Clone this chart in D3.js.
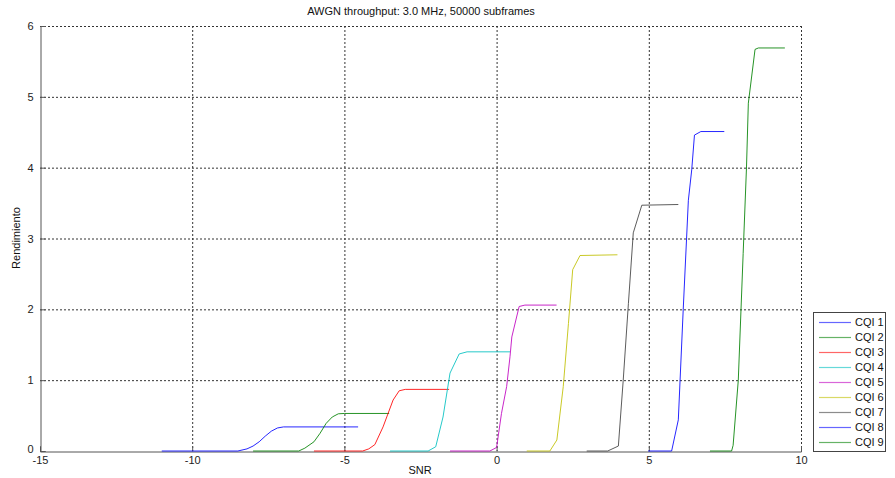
<!DOCTYPE html>
<html><head><meta charset="utf-8">
<script src="https://cdn.jsdelivr.net/npm/d3@7"></script>
<style>
body{margin:0;background:#fff;}
text{font-family:"Liberation Sans",Arial,Helvetica,sans-serif;}
</style></head>
<body><svg id="chart" width="895" height="478"></svg>
<script>
const titleText = "AWGN throughput: 3.0 MHz, 50000 subframes";
const xLabel = "SNR";
const yLabel = "Rendimiento";
const xTicks = [-15, -10, -5, 0, 5, 10];
const yTicks = [0, 1, 2, 3, 4, 5, 6];
const seriesNames = ["CQI 1","CQI 2","CQI 3","CQI 4","CQI 5","CQI 6","CQI 7","CQI 8","CQI 9"];
const seriesColors = ["#0000ff","#008000","#ff0000","#00bfbf","#bf00bf","#bfbf00","#404040","#0000ff","#008000"];

const cqi1Snr = [-11, -8.5, -8.2, -8.0, -7.8, -7.6, -7.4, -7.2, -7.0, -4.55];
const cqi1Thr = [0, 0, 0.03, 0.07, 0.13, 0.21, 0.28, 0.325, 0.34, 0.34];
const cqi2Snr = [-8.0, -6.5, -6.3, -6.0, -5.8, -5.6, -5.4, -5.2, -5.0, -3.53];
const cqi2Thr = [0, 0, 0.04, 0.13, 0.25, 0.39, 0.48, 0.525, 0.53, 0.53];
const cqi3Snr = [-6.0, -4.4, -4.2, -4.0, -3.73, -3.4, -3.2, -3.0, -1.56];
const cqi3Thr = [0, 0, 0.03, 0.09, 0.34, 0.72, 0.85, 0.87, 0.87];
const cqi4Snr = [-3.5, -2.25, -2.0, -1.76, -1.53, -1.23, -0.97, 0.44];
const cqi4Thr = [0, 0, 0.06, 0.48, 1.10, 1.37, 1.40, 1.40];
const cqi5Snr = [-1.53, -0.22, 0.0, 0.16, 0.33, 0.44, 0.5, 0.74, 0.93, 1.97];
const cqi5Thr = [0, 0, 0.05, 0.53, 0.91, 1.33, 1.61, 2.04, 2.06, 2.06];
const cqi6Snr = [0.99, 1.75, 1.98, 2.19, 2.36, 2.5, 2.74, 3.97];
const cqi6Thr = [0, 0, 0.155, 0.91, 1.80, 2.56, 2.76, 2.77];
const cqi7Snr = [2.96, 3.65, 4.0, 4.16, 4.33, 4.49, 4.77, 5.97];
const cqi7Thr = [0, 0, 0.07, 1.0, 2.08, 3.08, 3.47, 3.48];
const cqi8Snr = [4.98, 5.75, 5.97, 6.13, 6.3, 6.41, 6.5, 6.71, 7.48];
const cqi8Thr = [0, 0, 0.44, 1.99, 3.54, 3.97, 4.46, 4.51, 4.51];
const cqi9Snr = [7.01, 7.72, 7.77, 7.94, 8.1, 8.21, 8.27, 8.49, 8.6, 9.47];
const cqi9Thr = [0, 0, 0.08, 1.0, 2.79, 4.01, 4.91, 5.67, 5.69, 5.69];

const snrs = [cqi1Snr,cqi2Snr,cqi3Snr,cqi4Snr,cqi5Snr,cqi6Snr,cqi7Snr,cqi8Snr,cqi9Snr];
const thrs = [cqi1Thr,cqi2Thr,cqi3Thr,cqi4Thr,cqi5Thr,cqi6Thr,cqi7Thr,cqi8Thr,cqi9Thr];
const series = seriesNames.map((n,i)=>({name:n,color:seriesColors[i],pts:snrs[i].map((s,j)=>[s,thrs[i][j]])}));

const svg = d3.select("#chart");
const L=40, R=801, T=26, B=451;
const x = d3.scaleLinear().domain([-15,10]).range([L,R]);
const y = d3.scaleLinear().domain([0,6]).range([B,T]);

// grid
const g = svg.append("g");
g.selectAll(".gx").data(xTicks.filter(d=>d!==-15)).enter().append("line")
 .attr("x1",d=>x(d)+0.5).attr("x2",d=>x(d)+0.5).attr("y1",T).attr("y2",B)
 .attr("stroke","#333").attr("stroke-width",1).attr("stroke-dasharray","2,2");
g.selectAll(".gy").data(yTicks.filter(d=>d!==0)).enter().append("line")
 .attr("x1",L).attr("x2",R).attr("y1",d=>y(d)+0.5).attr("y2",d=>y(d)+0.5)
 .attr("stroke","#333").attr("stroke-width",1).attr("stroke-dasharray","2,2");

// axes
const fmt = d => String(d);
const xAxis = d3.axisBottom(x).tickValues(xTicks).tickSize(-5).tickPadding(9).tickFormat(fmt);
const yAxis = d3.axisLeft(y).tickValues(yTicks).tickSize(-5).tickPadding(7).tickFormat(fmt);
const ax = svg.append("g").attr("transform",`translate(0,${B+0.5})`).call(xAxis);
const ay = svg.append("g").attr("transform",`translate(${L+0.5},0)`).call(yAxis);
[ax,ay].forEach(a=>{
  a.select(".domain").attr("stroke","#555");
  a.selectAll(".tick line").attr("stroke","#555");
  a.selectAll("text").attr("font-size",11).attr("fill","#222");
});
ax.selectAll(".tick text").attr("dy","0.3em");
ay.selectAll(".tick text").filter(d=>d===0).attr("dy","0.1em");

// lines
const line = d3.line().x(d=>x(d[0])).y(d=>y(d[1]));
svg.append("g").selectAll("path").data(series).enter().append("path")
 .attr("d",d=>line(d.pts)).attr("fill","none").attr("stroke",d=>d.color).attr("stroke-width",1).attr("stroke-opacity",0.85);

// title & labels
svg.append("text").attr("x",421).attr("y",15).attr("text-anchor","middle").attr("font-size",11).attr("fill","#111").text(titleText);
svg.append("text").attr("x",420).attr("y",474).attr("text-anchor","middle").attr("font-size",11).attr("fill","#111").text(xLabel);
svg.append("text").attr("transform","translate(20,238) rotate(-90)").attr("text-anchor","middle").attr("font-size",11).attr("fill","#111").text(yLabel);

// legend
const lg = svg.append("g");
lg.append("rect").attr("x",813.5).attr("y",312.5).attr("width",72).attr("height",139).attr("fill","#fff").attr("stroke","#444").attr("stroke-width",1);
const items = lg.selectAll(".it").data(series).enter().append("g").attr("transform",(d,i)=>`translate(0,${322+i*15})`);
items.append("line").attr("x1",819).attr("x2",851).attr("y1",0.5).attr("y2",0.5).attr("stroke",d=>d.color).attr("stroke-opacity",0.6).attr("stroke-width",1.2);
items.append("text").attr("x",855).attr("y",0).attr("dy","0.35em").attr("font-size",11).attr("fill","#111").text(d=>d.name);
</script></body></html>
